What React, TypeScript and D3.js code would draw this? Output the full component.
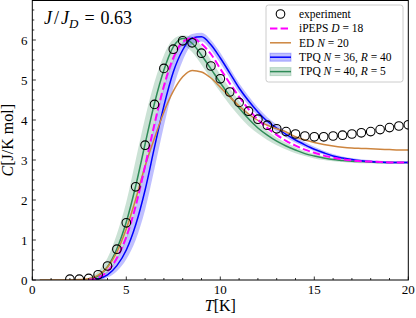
import * as d3 from 'd3'
import { useEffect, useRef } from 'react'

// experiment, T in K (step 0.5)
const expT = [2, 2.5, 3, 3.5, 4, 4.5, 5, 5.5, 6, 6.5, 7, 7.5, 8, 8.5, 9, 9.5, 10, 10.5, 11, 11.5, 12, 12.5, 13, 13.5, 14, 14.5, 15, 15.5, 16, 16.5, 17, 17.5, 18, 18.5, 19, 19.5, 20]
const expC = [0.02, 0.02, 0.04, 0.13, 0.35, 0.77, 1.43, 2.33, 3.37, 4.39, 5.29, 5.77, 5.98, 5.93, 5.67, 5.35, 5.03, 4.7, 4.44, 4.22, 4.02, 3.87, 3.78, 3.71, 3.65, 3.6, 3.58, 3.58, 3.6, 3.62, 3.65, 3.68, 3.71, 3.76, 3.81, 3.85, 3.88]

// theory grid
const theoryT = [3, 3.5, 4, 4.5, 5, 5.5, 6, 6.5, 7, 7.5, 8, 8.5, 9, 9.5, 10, 10.5, 11, 11.5, 12, 12.5, 13, 13.5, 14, 14.5, 15, 15.5, 16, 16.5, 17, 17.5, 18, 18.5, 19, 19.5, 20]

const ipepsC = [0.0, 0.06, 0.22, 0.55, 1.08, 1.85, 2.85, 3.9, 4.85, 5.55, 5.95, 6.05, 5.9, 5.65, 5.28, 4.92, 4.58, 4.27, 4.01, 3.8, 3.63, 3.48, 3.36, 3.26, 3.18, 3.11, 3.06, 3.02, 2.99, 2.97, 2.96, 2.95, 2.94, 2.94, 2.94]

const edT = [0.4, 2, 2.5, 3, 3.5, 4, 4.5, 5, 5.5, 6, 6.5, 7, 7.5, 8, 8.5, 9, 9.5, 10, 10.5, 11, 11.5, 12, 12.5, 13, 13.5, 14, 14.5, 15, 15.5, 16, 16.5, 17, 17.5, 18, 18.5, 19, 19.5, 20]
const edC = [0, 0, 0.01, 0.03, 0.12, 0.32, 0.7, 1.28, 2.02, 2.85, 3.55, 4.2, 4.72, 5.08, 5.24, 5.2, 5.05, 4.82, 4.58, 4.35, 4.15, 3.99, 3.87, 3.78, 3.7, 3.58, 3.5, 3.44, 3.39, 3.35, 3.32, 3.3, 3.29, 3.28, 3.27, 3.26, 3.25, 3.25]

const tpq36C = [0.0, 0.03, 0.13, 0.36, 0.75, 1.38, 2.25, 3.32, 4.35, 5.2, 5.75, 6.05, 6.08, 5.88, 5.55, 5.18, 4.8, 4.48, 4.2, 3.97, 3.8, 3.64, 3.5, 3.38, 3.27, 3.18, 3.1, 3.05, 3.01, 2.98, 2.96, 2.95, 2.94, 2.94, 2.94]
const tpq36Hi = [0.01, 0.07, 0.22, 0.53, 1.05, 1.8, 2.8, 3.85, 4.8, 5.5, 5.95, 6.15, 6.18, 6.0, 5.68, 5.3, 4.92, 4.6, 4.31, 4.07, 3.89, 3.72, 3.58, 3.45, 3.33, 3.23, 3.15, 3.09, 3.05, 3.02, 3.0, 2.98, 2.97, 2.97, 2.97]
const tpq36Lo = [0, 0.0, 0.06, 0.22, 0.52, 1.0, 1.75, 2.78, 3.85, 4.8, 5.48, 5.88, 5.96, 5.75, 5.42, 5.05, 4.68, 4.37, 4.1, 3.88, 3.71, 3.56, 3.43, 3.32, 3.22, 3.14, 3.06, 3.01, 2.98, 2.95, 2.93, 2.92, 2.91, 2.91, 2.91]

const tpq40C = [0.02, 0.1, 0.33, 0.78, 1.45, 2.35, 3.4, 4.42, 5.25, 5.83, 6.04, 5.92, 5.62, 5.28, 4.93, 4.6, 4.3, 4.03, 3.8, 3.62, 3.47, 3.35, 3.25, 3.16, 3.1, 3.05, 3.01, 2.99, 2.97, 2.96, 2.95, 2.94, 2.94, 2.94, 2.94]
const tpq40Hi = [0.06, 0.22, 0.55, 1.15, 1.95, 3.0, 4.05, 4.95, 5.62, 6.02, 6.12, 6.08, 5.85, 5.5, 5.14, 4.8, 4.48, 4.18, 3.93, 3.73, 3.56, 3.43, 3.32, 3.22, 3.15, 3.09, 3.05, 3.02, 3.0, 2.98, 2.97, 2.96, 2.96, 2.95, 2.95]
const tpq40Lo = [0.0, 0.04, 0.18, 0.5, 1.0, 1.8, 2.75, 3.8, 4.75, 5.45, 5.85, 5.7, 5.38, 5.03, 4.7, 4.38, 4.1, 3.85, 3.66, 3.5, 3.37, 3.26, 3.17, 3.1, 3.04, 3.0, 2.97, 2.95, 2.93, 2.92, 2.92, 2.91, 2.91, 2.91, 2.91]

const xTicks = [0, 5, 10, 15, 20]
const yTicks = [0, 1, 2, 3, 4, 5, 6]

const GREEN = '#2e8b57'
const BLUE = '#0000ff'
const ORANGE = '#cd853f'
const MAGENTA = '#ff00ff'
const FONT = '"Liberation Serif", "Times New Roman", serif'

const Chart = () => {
  const ref = useRef<SVGSVGElement>(null)

  useEffect(() => {
    document.body.style.margin = '0'
    const width = 416
    const height = 318
    const left = 32.3
    const right = 408.3
    const top = 0.5
    const bottom = 280

    const svg = d3.select(ref.current)
    svg.selectAll('*').remove()
    svg.attr('width', width).attr('height', height).style('display', 'block')

    const x = d3.scaleLinear().domain([0, 20]).range([left, right])
    const y = d3.scaleLinear().domain([0, 7]).range([bottom, 0])

    svg
      .append('defs')
      .append('clipPath')
      .attr('id', 'plotclip')
      .append('rect')
      .attr('x', left)
      .attr('y', top)
      .attr('width', right - left)
      .attr('height', bottom - top)

    const plot = svg.append('g').attr('clip-path', 'url(#plotclip)')

    const band = (hi: number[], lo: number[]) =>
      d3
        .area<number>()
        .x((t) => x(t))
        .y0((_, i) => y(lo[i]))
        .y1((_, i) => y(hi[i]))
        .curve(d3.curveMonotoneX)(theoryT)

    const line = (ts: number[], cs: number[]) =>
      d3
        .line<number>()
        .x((t) => x(t))
        .y((_, i) => y(cs[i]))
        .curve(d3.curveMonotoneX)(ts)

    // bands
    plot.append('path').attr('d', band(tpq40Hi, tpq40Lo)).attr('fill', GREEN).attr('fill-opacity', 0.25)
    plot.append('path').attr('d', band(tpq36Hi, tpq36Lo)).attr('fill', BLUE).attr('fill-opacity', 0.25)

    // lines
    plot.append('path').attr('d', line(theoryT, tpq40C)).attr('fill', 'none').attr('stroke', GREEN).attr('stroke-width', 1.5)
    plot.append('path').attr('d', line(theoryT, tpq36C)).attr('fill', 'none').attr('stroke', BLUE).attr('stroke-width', 1.5)
    plot.append('path').attr('d', line(edT, edC)).attr('fill', 'none').attr('stroke', ORANGE).attr('stroke-width', 1.5)
    plot
      .append('path')
      .attr('d', line(theoryT, ipepsC))
      .attr('fill', 'none')
      .attr('stroke', MAGENTA)
      .attr('stroke-width', 2)
      .attr('stroke-dasharray', '7.4,3.2')

    // experiment markers
    plot
      .append('g')
      .selectAll('circle')
      .data(expT)
      .join('circle')
      .attr('cx', (t) => x(t))
      .attr('cy', (_, i) => y(expC[i]))
      .attr('r', 4.3)
      .attr('fill', 'none')
      .attr('stroke', '#000')
      .attr('stroke-width', 1.1)

    // frame
    svg
      .append('rect')
      .attr('x', left)
      .attr('y', top)
      .attr('width', right - left)
      .attr('height', bottom - top)
      .attr('fill', 'none')
      .attr('stroke', '#000')
      .attr('stroke-width', 1)

    // ticks (inward)
    const tickG = svg.append('g').attr('stroke', '#000').attr('stroke-width', 0.8)
    tickG
      .selectAll('line.xmin')
      .data(d3.range(0, 21, 1))
      .join('line')
      .attr('x1', (d) => x(d))
      .attr('x2', (d) => x(d))
      .attr('y1', bottom)
      .attr('y2', (d) => (d % 5 === 0 ? bottom - 3.5 : bottom - 2))
    tickG
      .selectAll('line.ymin')
      .data(d3.range(0, 7.01, 0.25))
      .join('line')
      .attr('y1', (d) => y(d))
      .attr('y2', (d) => y(d))
      .attr('x1', left)
      .attr('x2', (d) => (Math.abs(d - Math.round(d)) < 1e-6 ? left + 3.5 : left + 2))

    svg
      .append('g')
      .selectAll('text')
      .data(xTicks)
      .join('text')
      .attr('x', (d) => x(d))
      .attr('y', 294)
      .attr('text-anchor', 'middle')
      .style('font-family', FONT)
      .style('font-size', '13px')
      .text((d) => d)

    svg
      .append('g')
      .selectAll('text')
      .data(yTicks)
      .join('text')
      .attr('x', 27.5)
      .attr('y', (d) => y(d) + 4.5)
      .attr('text-anchor', 'end')
      .style('font-family', FONT)
      .style('font-size', '13px')
      .text((d) => d)

    // axis labels
    const xl = svg
      .append('text')
      .attr('x', x(10))
      .attr('y', 311)
      .attr('text-anchor', 'middle')
      .style('font-family', FONT)
      .style('font-size', '16px')
    xl.append('tspan').style('font-style', 'italic').text('T')
    xl.append('tspan').text('[K]')

    const yl = svg
      .append('text')
      .attr('transform', `translate(12.5, ${(top + bottom) / 2}) rotate(-90)`)
      .attr('text-anchor', 'middle')
      .style('font-family', FONT)
      .style('font-size', '16px')
    yl.append('tspan').style('font-style', 'italic').text('C')
    yl.append('tspan').text('[J/K mol]')

    // title
    const title = svg
      .append('text')
      .attr('x', 44)
      .attr('y', 24)
      .style('font-family', FONT)
      .style('font-size', '18px')
    title.append('tspan').style('font-style', 'italic').text('J')
    title.append('tspan').attr('dx', 2).text('/')
    title.append('tspan').attr('dx', 2).style('font-style', 'italic').text('J')
    title.append('tspan').attr('dy', 4).style('font-size', '13px').style('font-style', 'italic').text('D')
    title.append('tspan').attr('dy', -4).attr('dx', 6).text('=')
    title.append('tspan').attr('dx', 6).text('0.63')

    // legend
    const lg = svg.append('g')
    lg.append('rect')
      .attr('x', 266)
      .attr('y', 5)
      .attr('width', 137)
      .attr('height', 77)
      .attr('rx', 2.5)
      .attr('fill', '#fff')
      .attr('fill-opacity', 0.8)
      .attr('stroke', '#cccccc')
      .attr('stroke-width', 1)

    const rowY = [14, 28.4, 42.8, 57.2, 71.6]
    const hx0 = 270
    const hx1 = 291
    lg.append('circle').attr('cx', (hx0 + hx1) / 2).attr('cy', rowY[0]).attr('r', 4.3).attr('fill', 'none').attr('stroke', '#000').attr('stroke-width', 1.1)
    lg.append('line').attr('x1', hx0).attr('x2', hx1).attr('y1', rowY[1]).attr('y2', rowY[1]).attr('stroke', MAGENTA).attr('stroke-width', 2).attr('stroke-dasharray', '7.4,3.2')
    lg.append('line').attr('x1', hx0).attr('x2', hx1).attr('y1', rowY[2]).attr('y2', rowY[2]).attr('stroke', ORANGE).attr('stroke-width', 1.5)
    ;[
      [rowY[3], BLUE],
      [rowY[4], GREEN],
    ].forEach(([ry, col]) => {
      lg.append('rect').attr('x', hx0).attr('y', (ry as number) - 4).attr('width', hx1 - hx0).attr('height', 8).attr('fill', col as string).attr('fill-opacity', 0.25).attr('stroke', col as string).attr('stroke-opacity', 0.25)
      lg.append('line').attr('x1', hx0).attr('x2', hx1).attr('y1', ry as number).attr('y2', ry as number).attr('stroke', col as string).attr('stroke-width', 1.5)
    })

    const labels: [string, string][][] = [
      [['experiment', 'n']],
      [['iPEPS ', 'n'], ['D', 'i'], [' = 18', 'n']],
      [['ED ', 'n'], ['N', 'i'], [' = 20', 'n']],
      [['TPQ ', 'n'], ['N', 'i'], [' = 36, ', 'n'], ['R', 'i'], [' = 40', 'n']],
      [['TPQ ', 'n'], ['N', 'i'], [' = 40, ', 'n'], ['R', 'i'], [' = 5', 'n']],
    ]
    labels.forEach((parts, i) => {
      const t = lg
        .append('text')
        .attr('x', 299)
        .attr('y', rowY[i] + 3.8)
        .style('font-family', FONT)
        .style('font-size', '11.5px')
        .style('white-space', 'pre')
      parts.forEach(([s, k]) => {
        t.append('tspan').style('font-style', k === 'i' ? 'italic' : 'normal').text(s)
      })
    })
  }, [])

  return <svg ref={ref}></svg>
}

export default function App() {
  return <Chart />
}
